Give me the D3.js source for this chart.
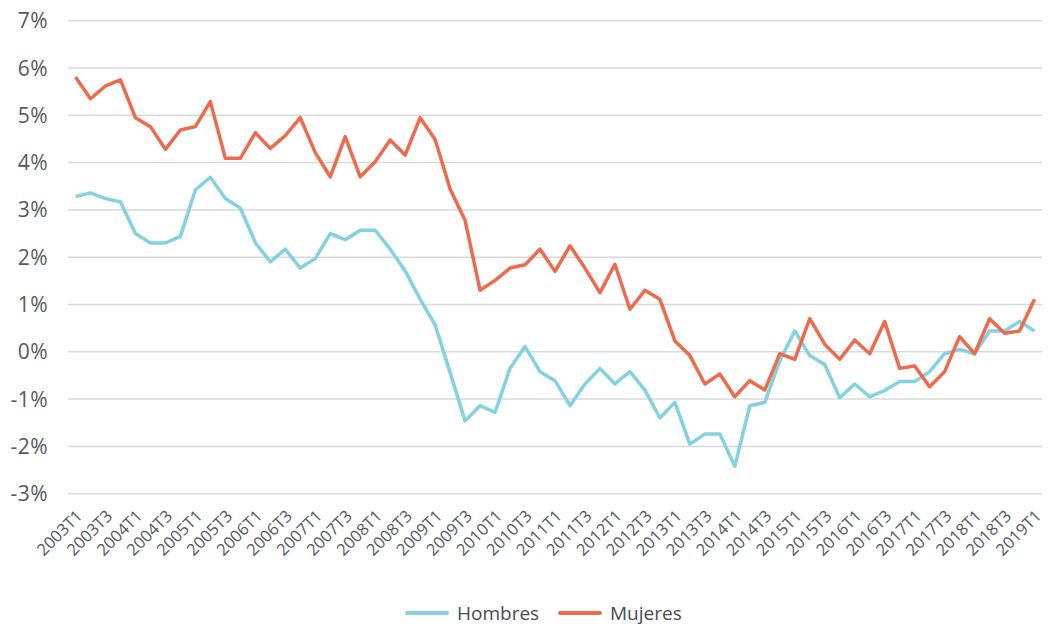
<!DOCTYPE html>
<html lang="es">
  <head>
    <meta charset="utf-8">
    <title>Hombres y Mujeres</title>
    <script src="https://d3js.org/d3.v7.min.js"></script>
    <style>
      body { margin: 0; background: white; }
      text { font-family: "Open Sans", sans-serif; fill: #555a60; }
    </style>
  </head>
  <body>
    <svg width="1051" height="626"></svg>
    <script>
      // trimestres 2003T1 .. 2019T1
      var years = d3.range(2003, 2020);
      var quarters = [];
      years.forEach(function(yr) {
        for (var q = 1; q <= 4; q++) {
          if (yr == 2019 && q > 1) break;
          quarters.push(yr + "T" + q);
        }
      });

      var yTicks = [-3, -2, -1, 0, 1, 2, 3, 4, 5, 6, 7];

      var hombres = [3.28, 3.36, 3.24, 3.17, 2.50, 2.30, 2.30, 2.44, 3.42, 3.69,
        3.24, 3.04, 2.31, 1.90, 2.17, 1.77, 1.97, 2.50, 2.37, 2.57,
        2.57, 2.17, 1.71, 1.11, 0.57, -0.44, -1.46, -1.14, -1.28, -0.35,
        0.11, -0.42, -0.61, -1.14, -0.68, -0.35, -0.68, -0.42, -0.81, -1.40,
        -1.07, -1.95, -1.74, -1.74, -2.42, -1.14, -1.07, -0.19, 0.44, -0.08,
        -0.27, -0.97, -0.68, -0.95, -0.82, -0.63, -0.63, -0.42, -0.04, 0.05,
        -0.04, 0.44, 0.44, 0.64, 0.44];

      var mujeres = [5.81, 5.35, 5.62, 5.75, 4.95, 4.76, 4.28, 4.69, 4.76, 5.29,
        4.09, 4.09, 4.63, 4.30, 4.57, 4.95, 4.21, 3.70, 4.55, 3.70,
        4.02, 4.48, 4.16, 4.95, 4.49, 3.44, 2.78, 1.30, 1.51, 1.77,
        1.84, 2.17, 1.70, 2.24, 1.77, 1.25, 1.85, 0.90, 1.30, 1.11,
        0.23, -0.08, -0.68, -0.47, -0.95, -0.61, -0.81, -0.04, -0.16, 0.70,
        0.16, -0.16, 0.25, -0.04, 0.64, -0.35, -0.30, -0.74, -0.42, 0.32,
        -0.04, 0.70, 0.39, 0.44, 1.11];

      var series = [
        { name: "Hombres", values: hombres, color: "#82d3df" },
        { name: "Mujeres", values: mujeres, color: "#ef6a4c" }
      ];

      var svg = d3.select("svg");
      var plotLeft = 68, plotRight = 1042, plotTop = 20.7, plotBottom = 493.7;

      var x = d3.scalePoint().domain(quarters).range([plotLeft, plotRight]).padding(0.5);
      var y = d3.scaleLinear().domain([-3, 7]).range([plotBottom, plotTop]);

      // rejilla
      svg.append("g").selectAll("line").data(yTicks).enter().append("line")
        .attr("x1", plotLeft).attr("x2", plotRight)
        .attr("y1", function(d) { return y(d); })
        .attr("y2", function(d) { return y(d); })
        .attr("stroke", "#d9d9d9").attr("stroke-width", 1.5);

      svg.append("g").selectAll("text").data(yTicks).enter().append("text")
        .attr("x", 48).attr("y", function(d) { return y(d) + 7.5; })
        .attr("text-anchor", "end").attr("font-size", "21px")
        .attr("letter-spacing", "0.5px")
        .text(function(d) { return d + "%"; });

      // etiquetas del eje x, cada dos trimestres
      var xLabels = quarters.filter(function(d, i) { return i % 2 == 0; });
      svg.append("g").selectAll("text").data(xLabels).enter().append("text")
        .attr("transform", function(d) {
          return "translate(" + (x(d) + 8) + "," + 517 + ") rotate(-45)";
        })
        .attr("text-anchor", "end").attr("font-size", "16.5px")
        .text(function(d) { return d; });

      var line = d3.line()
        .x(function(d, i) { return x(quarters[i]); })
        .y(function(d) { return y(d); });

      svg.append("g").selectAll("path").data(series).enter().append("path")
        .attr("d", function(s) { return line(s.values); })
        .attr("fill", "none")
        .attr("stroke", function(s) { return s.color; })
        .attr("stroke-width", 3.5)
        .attr("stroke-linejoin", "round");

      // leyenda
      var legendX = [407, 560];
      var lg = svg.append("g").selectAll("g").data(series).enter().append("g")
        .attr("transform", function(s, i) { return "translate(" + legendX[i] + ",613)"; });
      lg.append("line").attr("x1", 0).attr("x2", 40)
        .attr("stroke", function(s) { return s.color; })
        .attr("stroke-width", 4).attr("stroke-linecap", "round");
      lg.append("text").attr("x", 50).attr("y", 7)
        .attr("font-size", "19px")
        .style("fill", "#474c55")
        .text(function(s) { return s.name; });
    </script>
  </body>
</html>
